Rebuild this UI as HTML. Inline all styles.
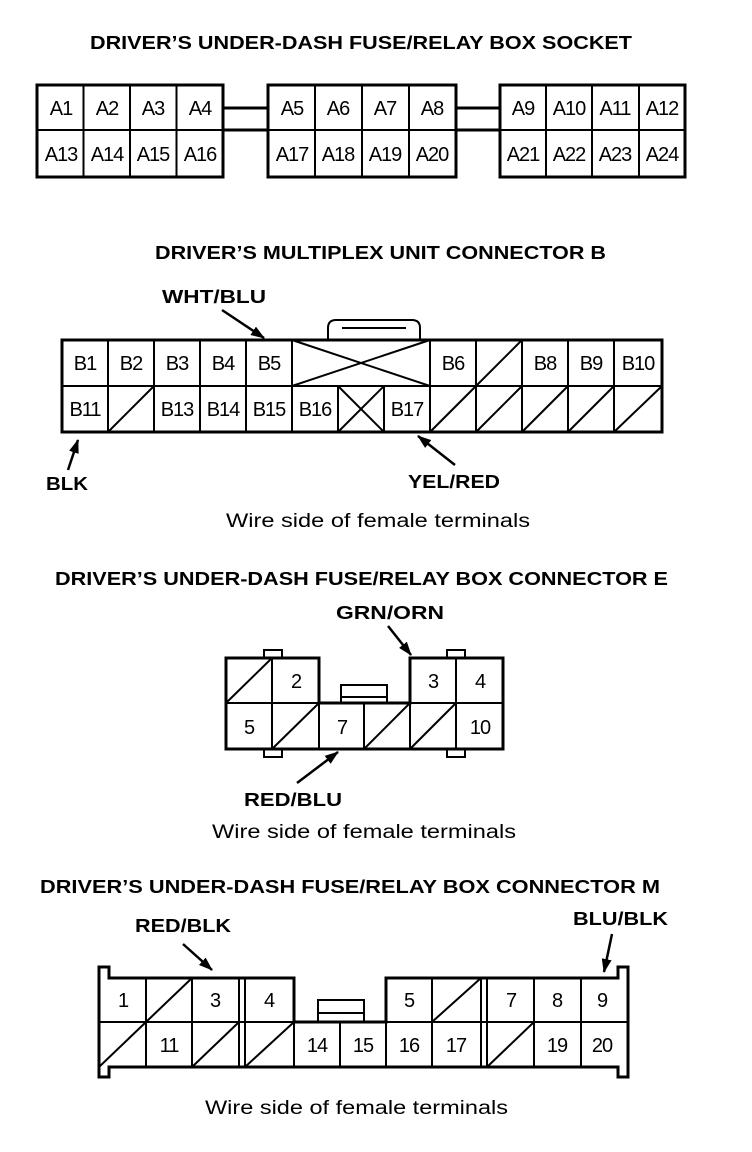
<!DOCTYPE html>
<html><head><meta charset="utf-8"><style>
html,body{margin:0;padding:0;background:#fff;}
svg{display:block;}
.t{font-family:"Liberation Sans",sans-serif;font-weight:bold;font-size:18px;fill:#000;}
.c{font-family:"Liberation Sans",sans-serif;font-size:20px;fill:#000;text-anchor:middle;letter-spacing:-1px;}
.w{font-family:"Liberation Sans",sans-serif;font-size:19px;fill:#000;}
</style></head><body>
<svg width="752" height="1152" viewBox="0 0 752 1152" xmlns="http://www.w3.org/2000/svg">
<defs><marker id="ah" markerWidth="14" markerHeight="10" refX="13" refY="5" orient="auto" markerUnits="userSpaceOnUse"><path d="M0,0 L14,5 L0,10 Z" fill="#000"/></marker></defs>
<g stroke="#000" fill="none" stroke-width="2">
<!-- Socket -->
<rect x="37" y="85" width="186" height="92" stroke-width="3"/>
<rect x="268" y="85" width="188" height="92" stroke-width="3"/>
<rect x="500" y="85" width="185" height="92" stroke-width="3"/>
<line x1="37" y1="130" x2="223" y2="130"/><line x1="268" y1="130" x2="456" y2="130"/><line x1="500" y1="130" x2="685" y2="130"/>
<line x1="83.5" y1="85" x2="83.5" y2="177"/><line x1="130" y1="85" x2="130" y2="177"/><line x1="176.5" y1="85" x2="176.5" y2="177"/>
<line x1="315" y1="85" x2="315" y2="177"/><line x1="362" y1="85" x2="362" y2="177"/><line x1="409" y1="85" x2="409" y2="177"/>
<line x1="546" y1="85" x2="546" y2="177"/><line x1="592" y1="85" x2="592" y2="177"/><line x1="639" y1="85" x2="639" y2="177"/>
<line x1="223" y1="108" x2="268" y2="108" stroke-width="3"/><line x1="223" y1="130" x2="268" y2="130" stroke-width="3"/>
<line x1="456" y1="108" x2="500" y2="108" stroke-width="3"/><line x1="456" y1="130" x2="500" y2="130" stroke-width="3"/>
<!-- Connector B -->
<path d="M328,340 V328 Q328,320 336,320 H412 Q420,320 420,328 V340" />
<line x1="342" y1="328" x2="406" y2="328"/>
<rect x="62" y="340" width="600" height="92" stroke-width="3"/>
<line x1="62" y1="386" x2="662" y2="386"/>
<line x1="108" y1="340" x2="108" y2="432"/><line x1="154" y1="340" x2="154" y2="432"/><line x1="200" y1="340" x2="200" y2="432"/><line x1="246" y1="340" x2="246" y2="432"/><line x1="292" y1="340" x2="292" y2="432"/>
<line x1="338" y1="386" x2="338" y2="432"/><line x1="384" y1="386" x2="384" y2="432"/><line x1="430" y1="340" x2="430" y2="432"/>
<line x1="476" y1="340" x2="476" y2="432"/><line x1="522" y1="340" x2="522" y2="432"/><line x1="568" y1="340" x2="568" y2="432"/><line x1="614" y1="340" x2="614" y2="432"/>
<line x1="292" y1="340" x2="430" y2="386"/><line x1="292" y1="386" x2="430" y2="340"/>
<line x1="338" y1="386" x2="384" y2="432"/><line x1="338" y1="432" x2="384" y2="386"/>
<line x1="108" y1="432" x2="154" y2="386"/><line x1="476" y1="386" x2="522" y2="340"/>
<line x1="430" y1="432" x2="476" y2="386"/><line x1="476" y1="432" x2="522" y2="386"/><line x1="522" y1="432" x2="568" y2="386"/><line x1="568" y1="432" x2="614" y2="386"/><line x1="614" y1="432" x2="662" y2="386"/>
<line x1="222" y1="310" x2="264" y2="338" marker-end="url(#ah)" stroke-width="2.5"/>
<line x1="68" y1="470" x2="78" y2="440" marker-end="url(#ah)" stroke-width="2.5"/>
<line x1="455" y1="465" x2="418" y2="436" marker-end="url(#ah)" stroke-width="2.5"/>
<!-- Connector E -->
<path d="M226,658 H319 V703 H410 V658 H503 V749 H226 Z" stroke-width="3"/>
<line x1="226" y1="703" x2="319" y2="703"/><line x1="410" y1="703" x2="503" y2="703"/>
<line x1="272" y1="658" x2="272" y2="749"/><line x1="456" y1="658" x2="456" y2="749"/>
<line x1="364" y1="703" x2="364" y2="749"/><line x1="410" y1="703" x2="410" y2="749"/><line x1="319" y1="703" x2="319" y2="749"/>
<line x1="226" y1="703" x2="272" y2="658"/><line x1="272" y1="749" x2="319" y2="703"/><line x1="364" y1="749" x2="410" y2="703"/><line x1="410" y1="749" x2="456" y2="703"/>
<rect x="264" y="650" width="18" height="8"/><rect x="447" y="650" width="18" height="8"/>
<rect x="264" y="749" width="18" height="8"/><rect x="447" y="749" width="18" height="8"/>
<rect x="341" y="685" width="46" height="18"/><line x1="341" y1="697" x2="387" y2="697"/>
<line x1="388" y1="626" x2="411" y2="655" marker-end="url(#ah)" stroke-width="2.5"/>
<line x1="297" y1="783" x2="338" y2="752" marker-end="url(#ah)" stroke-width="2.5"/>
<!-- Connector M -->
<path d="M99,967 H109 V978 H294 V1022 H386 V978 H618 V967 H628 V1077 H618 V1067 H109 V1077 H99 Z" stroke-width="3"/>
<line x1="99" y1="1022" x2="294" y2="1022"/><line x1="386" y1="1022" x2="628" y2="1022"/><line x1="294" y1="1022" x2="386" y2="1022" stroke-width="3"/>
<line x1="146" y1="978" x2="146" y2="1067"/><line x1="192" y1="978" x2="192" y2="1067"/><line x1="239" y1="978" x2="239" y2="1067"/><line x1="245" y1="978" x2="245" y2="1067"/>
<line x1="294" y1="1022" x2="294" y2="1067"/><line x1="340" y1="1022" x2="340" y2="1067"/><line x1="386" y1="1022" x2="386" y2="1067"/>
<line x1="432" y1="978" x2="432" y2="1067"/><line x1="481" y1="978" x2="481" y2="1067"/><line x1="487" y1="978" x2="487" y2="1067"/>
<line x1="534" y1="978" x2="534" y2="1067"/><line x1="581" y1="978" x2="581" y2="1067"/>
<line x1="146" y1="1022" x2="192" y2="978"/><line x1="432" y1="1022" x2="481" y2="978"/>
<line x1="99" y1="1067" x2="146" y2="1022"/><line x1="192" y1="1067" x2="239" y2="1022"/><line x1="245" y1="1067" x2="294" y2="1022"/><line x1="487" y1="1067" x2="534" y2="1022"/>
<rect x="318" y="1000" width="46" height="22"/><line x1="318" y1="1013" x2="364" y2="1013"/>
<line x1="183" y1="944" x2="212" y2="970" marker-end="url(#ah)" stroke-width="2.5"/>
<line x1="612" y1="934" x2="604" y2="972" marker-end="url(#ah)" stroke-width="2.5"/>
</g>
<!-- Titles -->
<text class="t" x="90" y="49" textLength="542" lengthAdjust="spacingAndGlyphs">DRIVER’S UNDER-DASH FUSE/RELAY BOX SOCKET</text>
<text class="t" x="155" y="259" textLength="451" lengthAdjust="spacingAndGlyphs">DRIVER’S MULTIPLEX UNIT CONNECTOR B</text>
<text class="t" x="55" y="585" textLength="613" lengthAdjust="spacingAndGlyphs">DRIVER’S UNDER-DASH FUSE/RELAY BOX CONNECTOR E</text>
<text class="t" x="40" y="893" textLength="620" lengthAdjust="spacingAndGlyphs">DRIVER’S UNDER-DASH FUSE/RELAY BOX CONNECTOR M</text>
<text class="t" x="162" y="303" textLength="104" lengthAdjust="spacingAndGlyphs">WHT/BLU</text>
<text class="t" x="46" y="490" textLength="42" lengthAdjust="spacingAndGlyphs">BLK</text>
<text class="t" x="408" y="488" textLength="92" lengthAdjust="spacingAndGlyphs">YEL/RED</text>
<text class="t" x="336" y="619" textLength="108" lengthAdjust="spacingAndGlyphs">GRN/ORN</text>
<text class="t" x="244" y="806" textLength="98" lengthAdjust="spacingAndGlyphs">RED/BLU</text>
<text class="t" x="135" y="932" textLength="96" lengthAdjust="spacingAndGlyphs">RED/BLK</text>
<text class="t" x="573" y="925" textLength="95" lengthAdjust="spacingAndGlyphs">BLU/BLK</text>
<text class="w" x="226" y="527" textLength="304" lengthAdjust="spacingAndGlyphs">Wire side of female terminals</text>
<text class="w" x="212" y="838" textLength="304" lengthAdjust="spacingAndGlyphs">Wire side of female terminals</text>
<text class="w" x="205" y="1114" textLength="303" lengthAdjust="spacingAndGlyphs">Wire side of female terminals</text>
<g class="c">
<text x="61" y="115">A1</text><text x="107" y="115">A2</text><text x="153" y="115">A3</text><text x="200" y="115">A4</text>
<text x="61" y="161">A13</text><text x="107" y="161">A14</text><text x="153" y="161">A15</text><text x="200" y="161">A16</text>
<text x="292" y="115">A5</text><text x="338" y="115">A6</text><text x="385" y="115">A7</text><text x="432" y="115">A8</text>
<text x="292" y="161">A17</text><text x="338" y="161">A18</text><text x="385" y="161">A19</text><text x="432" y="161">A20</text>
<text x="523" y="115">A9</text><text x="569" y="115">A10</text><text x="615" y="115">A11</text><text x="662" y="115">A12</text>
<text x="523" y="161">A21</text><text x="569" y="161">A22</text><text x="615" y="161">A23</text><text x="662" y="161">A24</text>
<text x="85" y="370">B1</text><text x="131" y="370">B2</text><text x="177" y="370">B3</text><text x="223" y="370">B4</text><text x="269" y="370">B5</text>
<text x="453" y="370">B6</text><text x="545" y="370">B8</text><text x="591" y="370">B9</text><text x="638" y="370">B10</text>
<text x="85" y="416">B11</text><text x="177" y="416">B13</text><text x="223" y="416">B14</text><text x="269" y="416">B15</text><text x="315" y="416">B16</text><text x="407" y="416">B17</text>
<text x="296" y="688">2</text><text x="433" y="688">3</text><text x="480" y="688">4</text>
<text x="249" y="734">5</text><text x="342" y="734">7</text><text x="480" y="734">10</text>
<text x="123" y="1007">1</text><text x="215" y="1007">3</text><text x="269" y="1007">4</text>
<text x="409" y="1007">5</text><text x="511" y="1007">7</text><text x="557" y="1007">8</text><text x="602" y="1007">9</text>
<text x="169" y="1052">11</text><text x="317" y="1052">14</text><text x="363" y="1052">15</text><text x="409" y="1052">16</text><text x="456" y="1052">17</text><text x="557" y="1052">19</text><text x="602" y="1052">20</text>
</g>
</svg>
</body></html>
